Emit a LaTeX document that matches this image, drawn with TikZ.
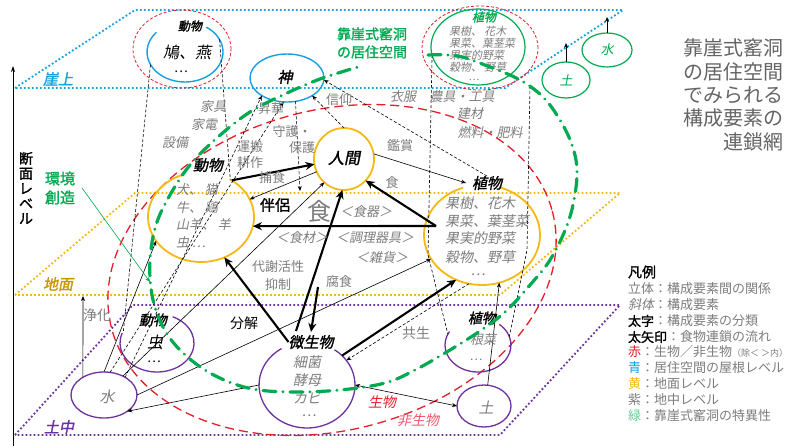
\documentclass[tikz,border=0pt]{standalone}
\usepackage{fontspec}
\setmainfont{Noto Sans CJK JP}
\newfontfamily\jp{Noto Sans CJK JP}
\newfontfamily\jpi{Noto Sans CJK JP}[FakeSlant=0.2]
\newfontfamily\jpb{Noto Sans CJK JP}[FakeBold=1.5]
\newfontfamily\jpbi{Noto Sans CJK JP}[FakeBold=1.5,FakeSlant=0.2]
\usetikzlibrary{shapes.geometric,arrows.meta,calc}
\newcommand\myfs[1]{\fontsize{#1pt}{#1pt}\selectfont}
\newcommand\myfsl[2]{\fontsize{#1pt}{#2pt}\selectfont}
\definecolor{tgray}{RGB}{125,125,125}
\definecolor{ttitle}{RGB}{100,100,100}
\definecolor{cblue}{RGB}{20,160,225}
\definecolor{cyel}{RGB}{245,185,20}
\definecolor{cyeltxt}{RGB}{200,150,0}
\definecolor{cpur}{RGB}{110,50,160}
\definecolor{cgreen}{RGB}{0,170,80}
\definecolor{cred}{RGB}{230,30,40}
\definecolor{cpink}{RGB}{240,90,110}
\begin{document}
\begin{tikzpicture}[x=1pt,y=-1pt,
  tx/.style={inner sep=0pt,outer sep=0pt},
  gr/.style={tx,text=tgray,font=\jp\myfs{13}},
  gri/.style={tx,text=tgray,font=\jpi\myfs{13}},
  cls/.style={tx,font=\jpbi\myfs{14}},
  shp/.style={ellipse,inner sep=0pt,outer sep=0pt},
  bluec/.style={draw=cblue,line width=1.4pt},
  yelc/.style={draw=cyel,line width=1.8pt},
  purc/.style={draw=cpur,line width=1.3pt},
  grnc/.style={draw=cgreen,line width=1.2pt},
  reddash/.style={draw=cred,line width=0.8pt,dash pattern=on 3pt off 2pt},
  bigred/.style={draw=cred,line width=1.3pt,dash pattern=on 9pt off 5pt},
  plane/.style={line width=1.8pt,dash pattern=on 1.8pt off 2.2pt},
  tarr/.style={draw=black,line width=0.6pt,-{Stealth[length=5pt,width=4pt]}},
  tharr/.style={draw=black,line width=2.1pt,-{Stealth[length=9pt,width=8pt]}},
  dsh/.style={draw=black,line width=0.6pt,dash pattern=on 3pt off 2pt},
  dsha/.style={dsh,-{Stealth[length=5pt,width=4pt]}},
  gloop/.style={draw=cgreen,line width=3.2pt,line cap=round,dash pattern=on 13pt off 7pt on 0.01pt off 7pt}
]
\useasboundingbox (0,0) rectangle (800,447);
\fill[white] (0,0) rectangle (800,447);

% planes
\draw[plane,draw=cblue] (15,88) -- (135,10) -- (623,10) -- (505,88) -- cycle;
\draw[plane,draw=cyel] (15,295) -- (135,193) -- (620,193) -- (500,295) -- cycle;
\draw[plane,draw=cpur] (15,435) -- (133,305) -- (620,305) -- (500,435) -- cycle;

% axis
\coordinate (ax0) at (13,446);
\coordinate (ax1) at (13,66);
\draw[line width=0.8pt,-{Stealth[length=6pt,width=4pt]}] (ax0) -- (ax1);

% big red boundary
\draw[bigred,rotate around={15:(332,270)}] (332,270) ellipse [x radius=228, y radius=160];

% shapes
\node[shp,minimum width=76pt,minimum height=60pt] (hato) at (185,52) {};
\node[shp,reddash,minimum width=98pt,minimum height=78pt] (hatoR) at (182,49) {};
\node[shp,bluec,minimum width=74pt,minimum height=48pt] (kami) at (287,78) {};
\node[shp,grnc,minimum width=94pt,minimum height=76pt] (shokuG) at (478,47) {};
\node[shp,reddash,minimum width=116pt,minimum height=84pt] (shokuR) at (480,48) {};
\node[shp,grnc,minimum width=48pt,minimum height=36pt] (tsuchiT) at (566,80) {};
\node[shp,grnc,minimum width=50pt,minimum height=34pt] (mizuT) at (607,50) {};
\node[shp,yelc,minimum width=60pt,minimum height=62pt] (ningen) at (344,159) {};
\node[shp,minimum width=106pt,minimum height=90pt] (doubutsu) at (201,217) {};
\node[shp,minimum width=116pt,minimum height=100pt] (shoku) at (482,235) {};
\node[shp,minimum width=74pt,minimum height=58pt] (mushi) at (157,343) {};
\node[shp,purc,minimum width=66pt,minimum height=46pt] (mizuB) at (104,395) {};
\node[shp,minimum width=96pt,minimum height=86pt] (biseiE) at (307,385) {};
\node[shp,minimum width=66pt,minimum height=54pt] (shokuP) at (478,345) {};
\node[shp,purc,minimum width=54pt,minimum height=42pt] (tsuchiB) at (484,406) {};

\draw[bluec] ($(hato.center)+(-56:38 and 30)$) arc[start angle=-56,end angle=221,x radius=38,y radius=30];
\draw[yelc] ($(doubutsu.center)+(-57:53 and 45)$) arc[start angle=-57,end angle=250,x radius=53,y radius=45];
\draw[yelc] ($(shoku.center)+(-72:58 and 50)$) arc[start angle=-72,end angle=251,x radius=58,y radius=50];
\draw[purc] ($(mushi.center)+(-65:37 and 29)$) arc[start angle=-65,end angle=200,x radius=37,y radius=29];
\draw[purc] ($(biseiE.center)+(-55:48 and 43)$) arc[start angle=-55,end angle=238,x radius=48,y radius=43];
\draw[purc] ($(shokuP.center)+(-50:33 and 27)$) arc[start angle=-50,end angle=210,x radius=33,y radius=27];

% labels that serve as connector ends
\node[cls,font=\jpbi\myfs{15}] (shokuL) at (487,183) {植物};
\node[cls,font=\jpbi\myfs{15}] (bisei) at (311,342) {微生物};
\node[tx,text=cgreen,font=\jpb\myfsl{15}{19},align=center] (kankyo) at (60,188) {環境\\創造};

% thick arrows (food chain)
\coordinate (pf) at (436,226);
\coordinate (b1) at (296,331);
\coordinate (b0) at (318,287);
\draw[tharr] (doubutsu.50) -- (ningen.190);
\draw[tharr] (pf) -- (doubutsu.-10);
\draw[tharr] (pf) -- (ningen.-45);
\draw[tharr] (b1) -- (ningen.-93);
\draw[tharr] (b0) -- ([yshift=3pt]bisei.north);
\draw[tharr] (bisei.west) -- (doubutsu.-60);
\draw[tharr] (biseiE.40) -- (shoku.-120);
\draw[dsha] (shoku.-105) -- (biseiE.32);

% thin arrows
\coordinate (jk) at (83,296);
\draw[tarr] (mizuB.north) -- (doubutsu.-152);
\draw[tarr] (mizuB.45) -- (ningen.-130);
\draw[tarr] (mizuB.east) -- (shoku.-155);
\draw[tarr] (biseiE.west) -- (mizuB.-35);
\draw[tarr,{Stealth[length=5pt,width=4pt]}-{Stealth[length=5pt,width=4pt]}] (biseiE.0) -- (tsuchiB.west);
\draw[tarr] (tsuchiB.80) -- (shoku.-70);
\draw[tarr] (mizuB.140) -- (jk);
\draw[tarr] (ningen.205) -- (doubutsu.20);
\draw[tarr] (ningen.10) -- ([xshift=-6pt]shokuL.west);

% dashed relations
\coordinate (sg) at (300,191);
\coordinate (v1) at (428,255);
\coordinate (v2a) at (530,86);
\coordinate (v2b) at (527,250);
\draw[dsh] (hato.200) -- (mushi.160);
\draw[dsh] (hato.20) -- (doubutsu.52);
\draw[dsha] (mizuB.40) -- (kami.215);
\draw[dsha] (mizuB.75) -- (kami.262);
\draw[dsha] (kami.-70) -- (sg);
\draw[dsha] (ningen.north) -- (kami.-35);
\draw[dsha] (shokuL.north) -- (kami.-3);
\draw[dsh] (shokuG.190) -- (v1) -- (shokuP.160);
\draw[dsh] (v2a) -- (v2b) -- (shokuP.15);

% small arrows on top
\coordinate (tu) at (566,43);
\coordinate (mu) at (607,17);
\draw[tarr] (tsuchiT.north) -- (tu);
\draw[tarr] (mizuT.north) -- (mu);

% green annotation arrow
\coordinate (kk) at (150,282);
\draw[draw=cgreen,line width=0.6pt,-{Stealth[length=5pt,width=4pt]}] ([xshift=7pt]kankyo.east) -- (kk);

% axis and plane labels
\node[tx,font=\jpb\myfsl{14}{15},align=center] (axl) at (26,188) {断\\面\\レ\\ベ\\ル};
\node[tx,text=cblue,font=\jpbi\myfs{15}] (lv1) at (58,79) {崖上};
\node[tx,text=cyeltxt,font=\jpbi\myfs{15}] (lv2) at (58,284) {地面};
\node[tx,text=cpur,font=\jpbi\myfs{15}] (lv3) at (59,427) {土中};

% top level texts
\node[cls,font=\jpbi\myfs{12}] (hatoL) at (190,26) {動物};
\node[tx,font=\jpi\myfs{16}] (hatoT) at (187,52) {鳩、燕};
\node[tx,font=\jp\myfs{13}] (hatoD) at (181,72) {…};
\node[cls,font=\jpbi\myfs{15}] (kamiL) at (285,77) {神};
\node[tx,text=cgreen,font=\jpb\myfs{14}] (g1) at (372,34) {靠崖式窰洞};
\node[tx,text=cgreen,font=\jpb\myfs{14}] (g2) at (372,52) {の居住空間};
\node[tx,text=cgreen,font=\jpbi\myfs{12}] (shokuGL) at (484,17) {植物};
\node[gri,font=\jpi\myfs{11},anchor=west] (sg1) at (449,31) {果樹、 花木};
\node[gri,font=\jpi\myfs{11},anchor=west] (sg2) at (449,43) {果菜、葉茎菜};
\node[gri,font=\jpi\myfs{11},anchor=west] (sg3) at (449,55) {果実的野菜};
\node[gri,font=\jpi\myfs{11},anchor=west] (sg4) at (449,67) {穀物、 野草};
\node[gri,font=\jpi\myfs{10}] (sg5) at (474,80) {…};
\node[tx,text=cgreen,font=\jpi\myfs{13}] (tT) at (566,80) {土};
\node[tx,text=cgreen,font=\jpi\myfs{13}] (mT) at (607,50) {水};

% title
\node[tx,text=ttitle,font=\jp\myfs{20},anchor=east] (ti1) at (783,48) {靠崖式窰洞};
\node[tx,text=ttitle,font=\jp\myfs{20},anchor=east] (ti2) at (783,72) {の居住空間};
\node[tx,text=ttitle,font=\jp\myfs{20},anchor=east] (ti3) at (783,95) {でみられる};
\node[tx,text=ttitle,font=\jp\myfs{20},anchor=east] (ti4) at (783,118) {構成要素の};
\node[tx,text=ttitle,font=\jp\myfs{20},anchor=east] (ti5) at (783,142) {連鎖網};

% upper relation labels
\node[gri] (k1) at (213,107) {家具};
\node[gri] (k2) at (204,125) {家電};
\node[gri] (k3) at (175,143) {設備};
\node[gr] (r1) at (271,109) {昇華};
\node[gr] (r2) at (292,132) {守護・};
\node[gr] (r3) at (302,148) {保護};
\node[gr] (r4) at (250,147) {運搬};
\node[gr] (r5) at (250,163) {耕作};
\node[gr] (r6) at (272,178) {捕食};
\node[gr] (r7) at (339,100) {信仰};
\node[gri] (k4) at (403,97) {衣服};
\node[gri] (k5) at (462,97) {農具・工具};
\node[gri] (k6) at (470,114) {建材};
\node[gri] (k7) at (490,133) {燃料・肥料};
\node[gr] (r8) at (400,146) {鑑賞};

% ground level
\node[cls,font=\jpbi\myfs{16}] (ningenL) at (344,158) {人間};
\node[cls,font=\jpbi\myfs{15}] (doubutsuL) at (208,165) {動物};
\node[gri,anchor=west] (d1) at (176,190) {犬、 猫};
\node[gri,anchor=west] (d2) at (176,208) {牛、 鶏};
\node[gri,anchor=west] (d3) at (176,225) {山羊、 羊};
\node[gri,anchor=west] (d4) at (176,243) {虫 …};
\node[tx,font=\jpb\myfs{15}] (banryo) at (275,205) {伴侶};
\node[gr,font=\jp\myfs{24}] (shoku1) at (319,211) {食};
\node[gr] (shoku2) at (392,183) {食};
\node[gri] (u1) at (366,212) {＜食器＞};
\node[gri] (u2) at (302,238) {＜食材＞};
\node[gri] (u3) at (375,238) {＜調理器具＞};
\node[gri] (u4) at (382,258) {＜雑貨＞};
\node[gr] (r9) at (278,267) {代謝活性};
\node[gr] (r10) at (278,285) {抑制};
\node[gr] (r11) at (339,282) {腐食};
\node[gri,font=\jpi\myfs{14},anchor=west] (p1) at (445,203) {果樹、花木};
\node[gri,font=\jpi\myfs{14},anchor=west] (p2) at (445,221) {果菜、葉茎菜};
\node[gri,font=\jpi\myfs{14},anchor=west] (p3) at (445,238) {果実的野菜};
\node[gri,font=\jpi\myfs{14},anchor=west] (p4) at (445,257) {穀物、野草};
\node[gri,font=\jpi\myfs{14}] (p5) at (478,275) {…};

% underground
\node[gr,font=\jp\myfs{14}] (jouka) at (97,315) {浄化};
\node[cls] (mushiL) at (153,320) {動物};
\node[tx,font=\jpi\myfs{16}] (mushiT) at (155,342) {虫};
\node[tx,font=\jp\myfs{13}] (mushiD) at (154,362) {…};
\node[tx,font=\jp\myfs{14}] (bunkai) at (244,323) {分解};
\node[gri,font=\jpi\myfs{15}] (mizuL) at (107,397) {水};
\node[gri,font=\jpi\myfs{14}] (m1) at (307,362) {細菌};
\node[gri,font=\jpi\myfs{14}] (m2) at (307,380) {酵母};
\node[gri,font=\jpi\myfs{14}] (m3) at (307,398) {カビ};
\node[gri,font=\jpi\myfs{14}] (m4) at (309,416) {…};
\node[gr,font=\jp\myfs{14}] (kyousei) at (416,333) {共生};
\node[cls] (shokuPL) at (482,318) {植物};
\node[gri,font=\jpi\myfs{13}] (konsai) at (483,340) {根菜};
\node[gri,font=\jpi\myfs{12}] (konsaiD) at (476,360) {…};
\node[gri,font=\jpi\myfs{15}] (tsuchiL) at (486,407) {土};
\node[tx,text=cred,font=\jpi\myfs{14}] (sei) at (382,402) {生物};
\node[tx,text=cpink,font=\jpi\myfs{14}] (hisei) at (418,420) {非生物};

% legend
\node[tx,font=\jpb\myfs{14},anchor=west] (lg0) at (628,272) {凡例};
\node[gr,anchor=west] (lg1) at (628,289) {立体：構成要素間の関係};
\node[gr,anchor=west] (lg2) at (628,305) {{\jpi 斜体}：構成要素};
\node[gr,anchor=west] (lg3) at (628,321) {{\jpb\color{black}太字}：構成要素の分類};
\node[gr,anchor=west] (lg4) at (628,337) {{\jpb\color{black}太矢印}：食物連鎖の流れ};
\node[gr,anchor=west] (lg5) at (628,352) {{\color{cred}赤}：生物／非生物{\myfs{9}（除＜ ＞内）}};
\node[gr,anchor=west] (lg6) at (628,368) {{\color{cblue}青}：居住空間の屋根レベル};
\node[gr,anchor=west] (lg7) at (628,384) {{\color{cyel}黄}：地面レベル};
\node[gr,anchor=west] (lg8) at (628,400) {紫：地中レベル};
\node[gr,anchor=west] (lg9) at (628,416) {{\color{cgreen!60}緑}：靠崖式窰洞の特異性};

% green dash-dot boundary of the dwelling space
\draw[gloop] plot[smooth,tension=0.6] coordinates {(428,55) (458,56) (490,67) (520,80) (543,97) (560,120) (572,145) (577,170) (574,200) (566,228) (550,260) (530,285) (505,312) (477,333) (445,353) (415,370) (385,383) (340,390) (290,392) (248,388) (210,373) (180,350) (162,325) (152,295) (150,260) (156,225) (170,195) (190,165) (218,137) (250,112) (285,94) (320,79) (358,67)};
\end{tikzpicture}
\end{document}
